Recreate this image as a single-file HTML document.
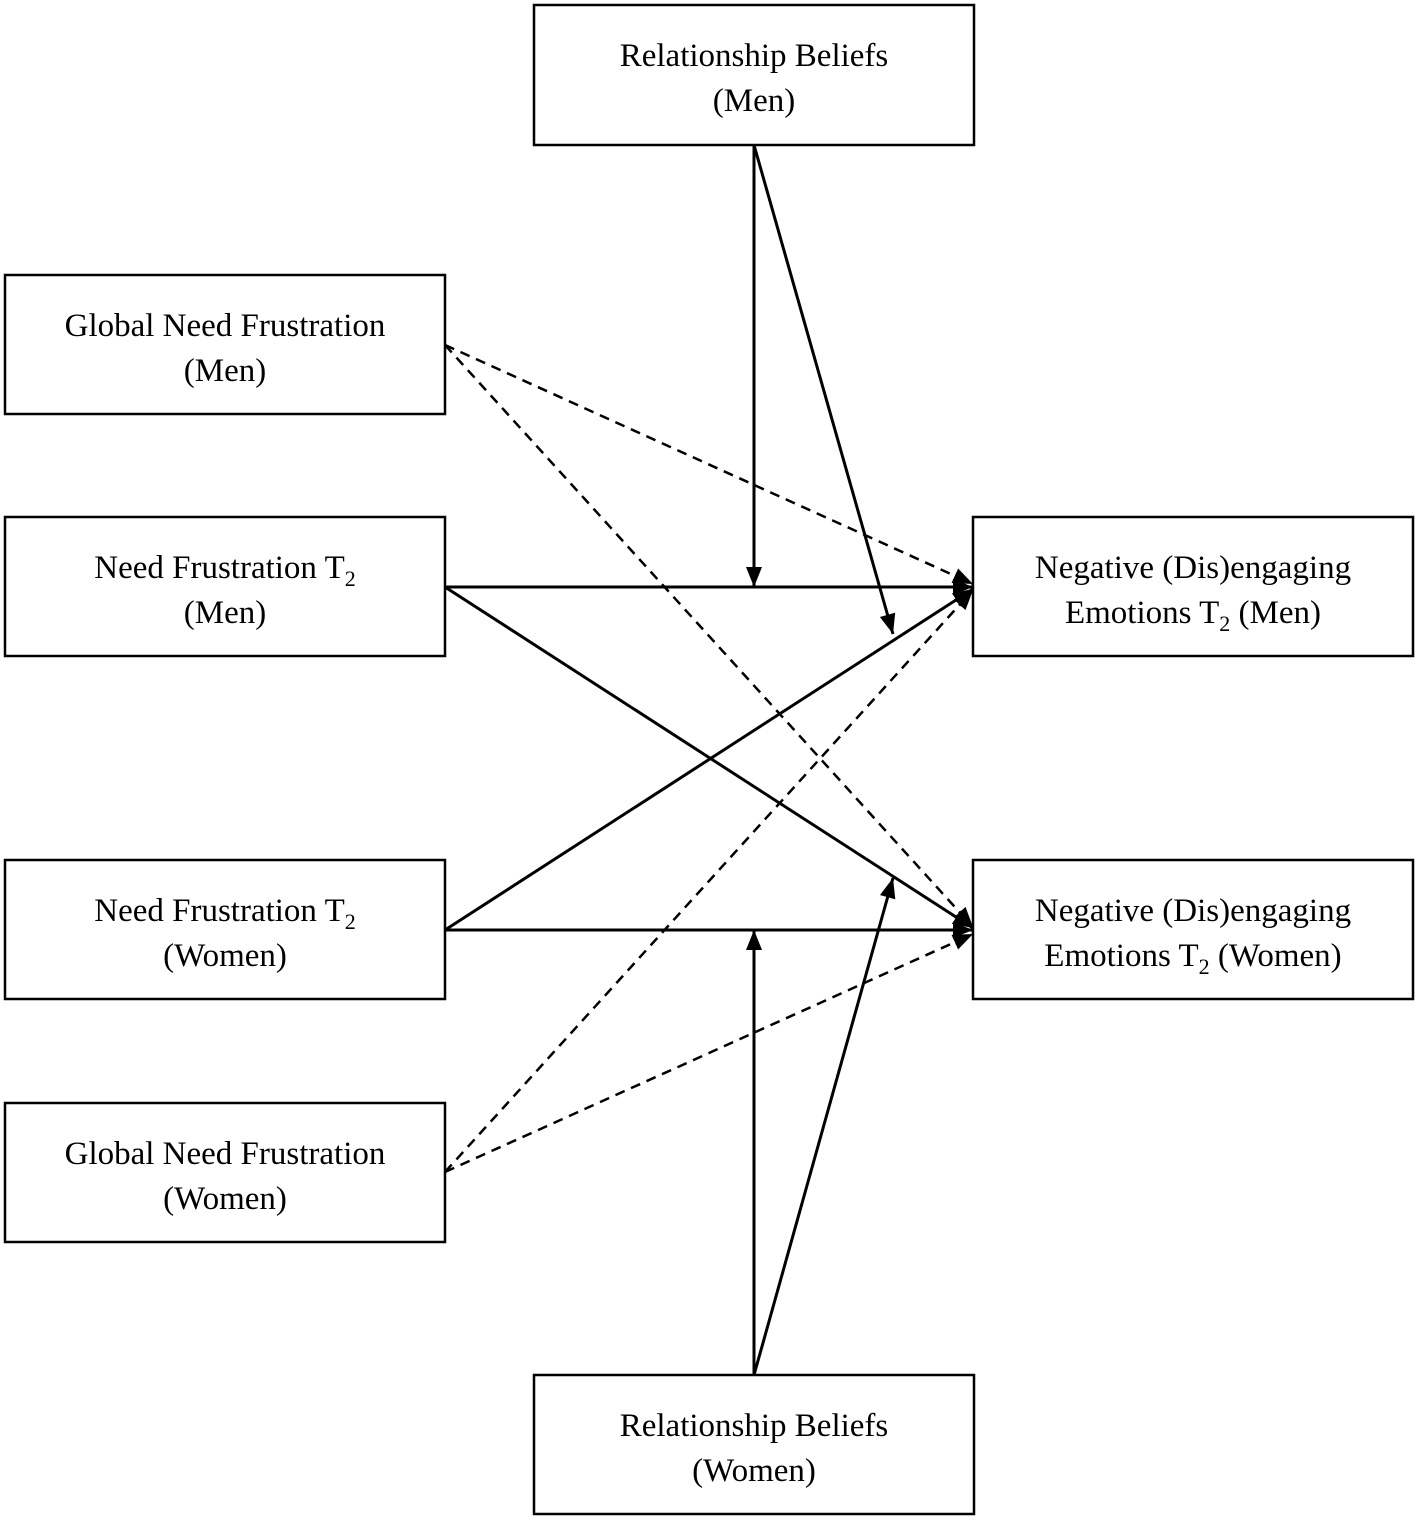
<!DOCTYPE html>
<html><head><meta charset="utf-8"><style>
body{margin:0;background:#fff}
svg text{font-family:"Liberation Serif",serif;font-size:33px;fill:#000}
</style></head><body>
<svg width="1418" height="1518" viewBox="0 0 1418 1518" xmlns="http://www.w3.org/2000/svg">
<defs><marker id="a" markerWidth="10" markerHeight="10" refX="9" refY="5" orient="auto" markerUnits="userSpaceOnUse" viewBox="0 0 10 10"><path d="M0,0 L10,5 L0,10 z" fill="#000"/></marker>
<marker id="b" markerWidth="20" markerHeight="16" refX="20" refY="8" orient="auto" markerUnits="userSpaceOnUse" viewBox="0 0 20 16"><path d="M0,0 L20,8 L0,16 z" fill="#000"/></marker></defs>
<g fill="none" stroke="#000" stroke-width="2.5">
<rect x="534" y="5" width="440" height="140"/>
<rect x="5" y="275" width="440" height="139"/>
<rect x="5" y="517" width="440" height="139"/>
<rect x="5" y="860" width="440" height="139"/>
<rect x="5" y="1103" width="440" height="139"/>
<rect x="973" y="517" width="440" height="139"/>
<rect x="973" y="860" width="440" height="139"/>
<rect x="534" y="1375" width="440" height="139"/>
</g>
<g stroke="#000" stroke-width="3" fill="none">
<line x1="445" y1="587" x2="973" y2="587" marker-end="url(#b)"/>
<line x1="754" y1="145" x2="754" y2="587" marker-end="url(#b)"/>
<line x1="754" y1="145" x2="893" y2="634" marker-end="url(#b)"/>
<line x1="445" y1="587" x2="973" y2="928" marker-end="url(#b)"/>
<line x1="445" y1="930" x2="973" y2="589" marker-end="url(#b)"/>
<line x1="445" y1="930" x2="973" y2="930" marker-end="url(#b)"/>
<line x1="754" y1="1375" x2="754" y2="930" marker-end="url(#b)"/>
<line x1="754" y1="1375" x2="893" y2="878" marker-end="url(#b)"/>
</g>
<g stroke="#000" stroke-width="2.5" fill="none" stroke-dasharray="10,7">
<line x1="445" y1="345" x2="973" y2="584" marker-end="url(#b)"/>
<line x1="445" y1="345" x2="973" y2="927" marker-end="url(#b)"/>
<line x1="445" y1="1172" x2="973" y2="590" marker-end="url(#b)"/>
<line x1="445" y1="1172" x2="973" y2="934" marker-end="url(#b)"/>
</g>
<g text-anchor="middle">
<text x="754" y="66">Relationship Beliefs</text><text x="754" y="111">(Men)</text>
<text x="225" y="336">Global Need Frustration</text><text x="225" y="381">(Men)</text>
<text x="225" y="578">Need Frustration T<tspan font-size="22" dy="8">2</tspan></text><text x="225" y="623">(Men)</text>
<text x="225" y="921">Need Frustration T<tspan font-size="22" dy="8">2</tspan></text><text x="225" y="966">(Women)</text>
<text x="225" y="1164">Global Need Frustration</text><text x="225" y="1209">(Women)</text>
<text x="1193" y="578">Negative (Dis)engaging</text><text x="1193" y="623">Emotions T<tspan font-size="22" dy="8">2</tspan><tspan dy="-8"> (Men)</tspan></text>
<text x="1193" y="921">Negative (Dis)engaging</text><text x="1193" y="966">Emotions T<tspan font-size="22" dy="8">2</tspan><tspan dy="-8"> (Women)</tspan></text>
<text x="754" y="1436">Relationship Beliefs</text><text x="754" y="1481">(Women)</text>
</g>
</svg>
</body></html>
